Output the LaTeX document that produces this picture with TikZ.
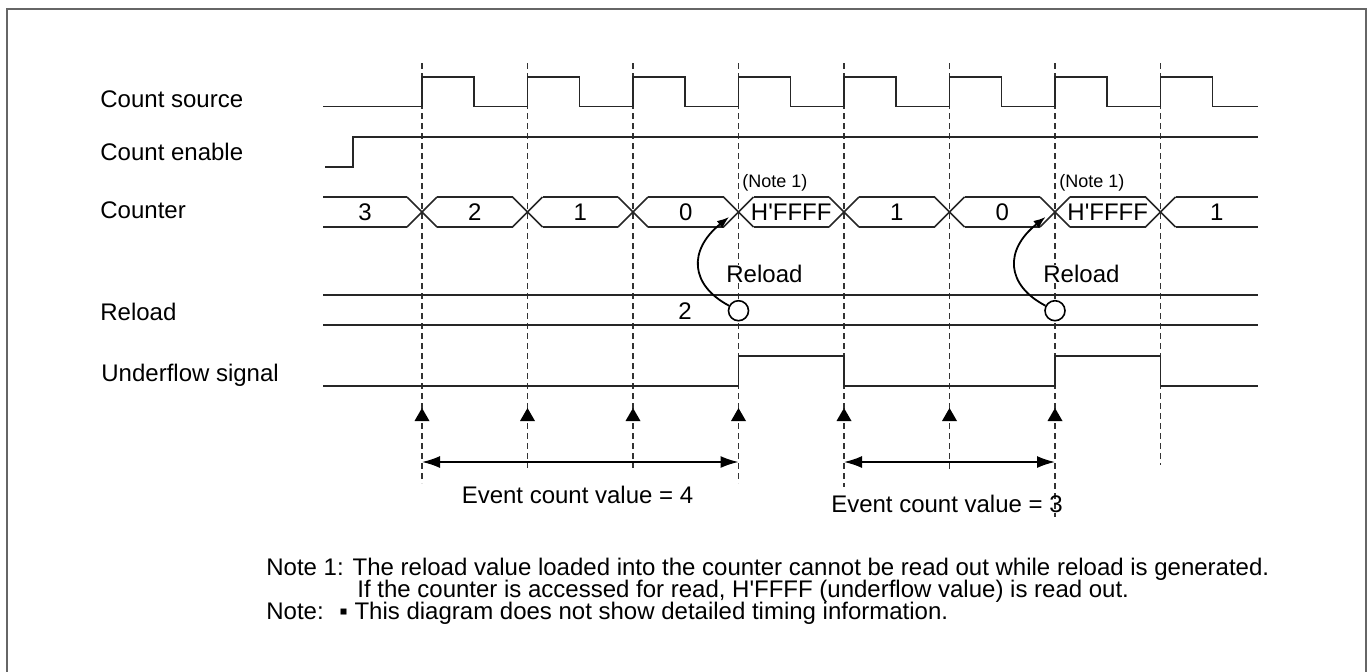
\documentclass[tikz,border=0pt]{standalone}
\usepackage{fontspec}
\newfontfamily\diagfont{Liberation Sans}
\usetikzlibrary{arrows.meta}
\begin{document}
\begin{tikzpicture}[x=0.5pt, y=-0.5pt, font=\diagfont\fontsize{12}{14.4}\selectfont]
    % Styles
    \tikzstyle{sig} = [line width=0.75pt, black!85]
    \tikzstyle{guide} = [line width=0.6pt, dash pattern=on 3pt off 2pt, black!80]
    \tikzstyle{lbl} = [inner sep=0pt, anchor=base west]
    \tikzstyle{val} = [inner sep=0pt]
    \tikzstyle{notesmall} = [inner sep=0pt, anchor=west, font=\diagfont\fontsize{9}{11}\selectfont]
    \tikzstyle{reloaddot} = [circle, draw, fill=white, line width=0.8pt, minimum size=10pt, inner sep=0pt]
    \tikzstyle{arrow} = [line width=0.9pt, -{Latex[length=6pt,width=4.5pt]}]
    \tikzstyle{spanarrow} = [line width=0.8pt, {Latex[length=9pt,width=6pt]}-{Latex[length=9pt,width=6pt]}]

    \useasboundingbox (0,0) rectangle (1372,671);
    \draw [black!60, line width=0.9pt] (7,9) rectangle (1366,690);

    % Guide lines
    \foreach \x/\yb in {422/483, 527.5/468, 633/468, 738.5/483, 844/487, 949.5/470, 1055/517, 1160.5/465}
        \draw [guide] (\x,63) -- (\x,\yb);

    % Signal names
    \node [lbl] (src) at (100,107) {Count source};
    \node [lbl] (en) at (100,160) {Count enable};
    \node [lbl] (cnt) at (100,218) {Counter};
    \node [lbl] (rld) at (100,320) {Reload};
    \node [lbl] (uf) at (101,381.5) {Underflow signal};

    % Count source
    \draw [sig] (323,106.5) foreach \x in {422,527.5,633,738.5,844,949.5,1055,1160.5}
        { -- (\x,106.5) -- (\x,77) -- (\x+52,77) -- (\x+52,106.5) } -- (1258,106.5);

    % Count enable
    \draw [sig] (325,167) -- (353,167) -- (353,137) -- (1258,137);

    % Counter
    \foreach \x in {422,527.5,633,738.5,844,949.5,1055,1160.5} {
        \draw [sig] (\x-15,197) -- (\x+15,227);
        \draw [sig] (\x-15,227) -- (\x+15,197);
    }
    \foreach \a/\b in {323/407, 437/512.5, 542.5/618, 648/723.5, 753.5/829, 859/934.5, 964.5/1040, 1070/1145.5, 1175.5/1258} {
        \draw [sig] (\a,197) -- (\b,197);
        \draw [sig] (\a,227) -- (\b,227);
    }
    \foreach \c/\t [count=\i] in {365/3, 474.75/2, 580.25/1, 685.75/0, 791.25/H\textquotesingle FFFF, 896.75/1, 1002.25/0, 1107.75/H\textquotesingle FFFF, 1216.75/1}
        \node [val] (v\i) at (\c,212) {\t};
    \node [notesmall] (n1) at (742,183) {(Note 1)};
    \node [notesmall] (n2) at (1059,183) {(Note 1)};

    % Reload
    \draw [sig] (323,295) -- (1258,295);
    \draw [sig] (323,325) -- (1258,325);
    \node [val] (rv) at (685,311) {2};
    \node [reloaddot] (d1) at (738.5,310.7) {};
    \node [reloaddot] (d2) at (1055,310.7) {};
    \node [val, anchor=west, fill=white, inner xsep=1pt] (rl1) at (724,274) {Reload};
    \node [val, anchor=west, fill=white, inner xsep=1pt] (rl2) at (1041,274) {Reload};
    \coordinate (t1) at (729,217);
    \coordinate (t2) at (1045.5,217);

    % Underflow signal
    \draw [sig] (323,386) -- (738.5,386) -- (738.5,356) -- (844,356) -- (844,386)
        -- (1055,386) -- (1055,356) -- (1160.5,356) -- (1160.5,386) -- (1258,386);

    % Count edges
    \foreach \x in {422,527.5,633,738.5,844,949.5,1055}
        \fill (\x,408) -- (\x-7.5,421) -- (\x+7.5,421) -- cycle;

    \coordinate (e1l) at (422,462);
    \coordinate (e1r) at (738.5,462);
    \coordinate (e2l) at (844,462);
    \coordinate (e2r) at (1055,462);
    \node [val] (ev1) at (577.5,495) {Event count value = 4};
    \node [val] (ev2) at (947,504) {Event count value = 3};

    % Notes
    \node [lbl] (note1) at (266,575) {Note 1: The reload value loaded into the counter cannot be read out while reload is generated.};
    \node [lbl] (note1b) at (357,597) {If the counter is accessed for read, H\textquotesingle FFFF (underflow value) is read out.};
    \node [lbl] (note2) at (266,619) {Note:};
    \node [lbl] (note2b) at (339,619) {\char"25AA\ This diagram does not show detailed timing information.};

    % Arrows
    \draw [arrow] (d1) .. controls (690,285) and (688,250) .. (t1);
    \draw [arrow] (d2) .. controls (1006,285) and (1004,250) .. (t2);
    \draw [spanarrow] (e1l) -- (e1r);
    \draw [spanarrow] (e2l) -- (e2r);
\end{tikzpicture}
\end{document}
